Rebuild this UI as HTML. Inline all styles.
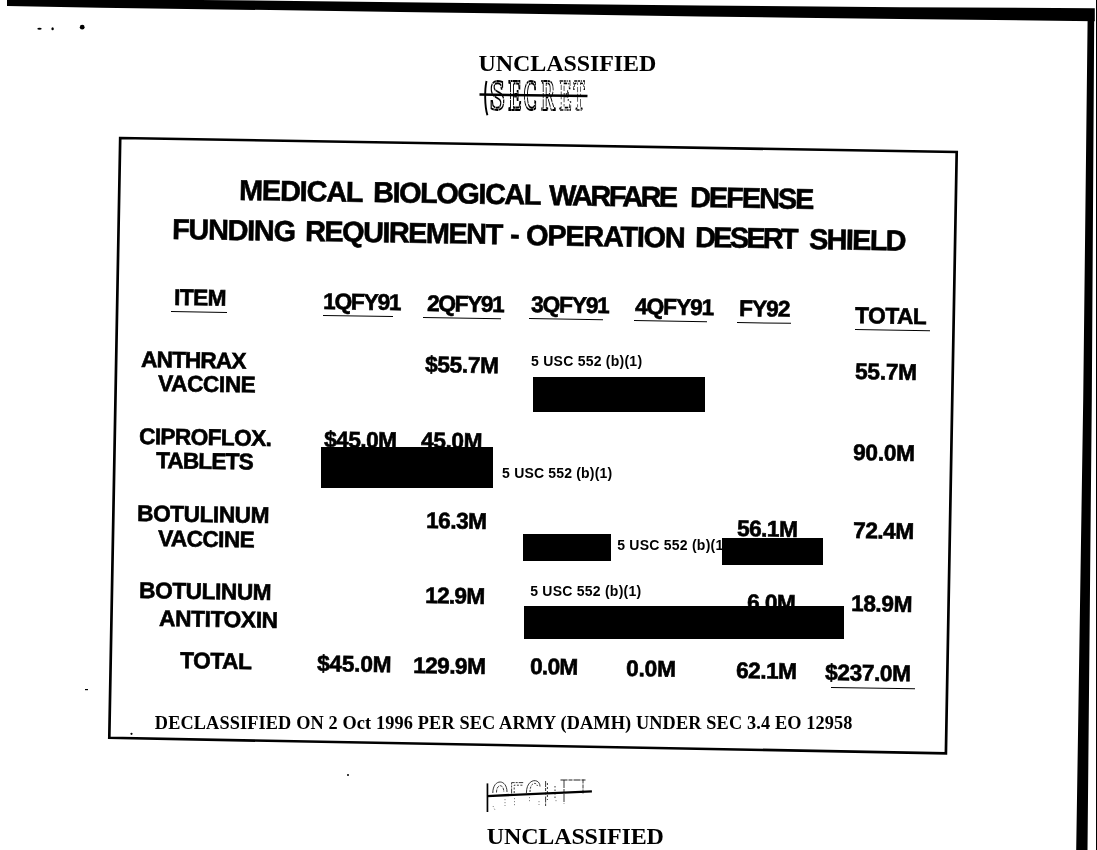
<!DOCTYPE html>
<html><head><meta charset="utf-8"><title>Medical Biological Warfare Defense Funding Requirement</title>
<style>
html,body{margin:0;padding:0;background:#fff;}
body{width:1097px;height:850px;position:relative;overflow:hidden;font-family:"Liberation Sans",sans-serif;color:#000;}
#pg{position:absolute;left:0;top:0;width:1097px;height:850px;will-change:transform;}
.t{position:absolute;white-space:nowrap;line-height:1;margin:0;padding:0;}
.sb{font-family:"Liberation Sans",sans-serif;font-weight:bold;-webkit-text-stroke:0.6px #000;}
.rb{font-family:"Liberation Serif",serif;font-weight:bold;}
.lab{font-family:"Liberation Sans",sans-serif;font-weight:bold;}
.bx{position:absolute;background:#000;}
.ul{position:absolute;height:1.4px;background:#000;transform-origin:0 50%;}
svg{position:absolute;left:0;top:0;}
</style></head><body><div id="pg">
<svg width="1097" height="850" viewBox="0 0 1097 850">
<polygon points="7,0 200,0 400,2.2 700,5.5 900,7.2 1094.8,8.3 1094.8,21.2 900,19 797,17.8 700,16.4 400,11.9 100,7.7 7,6" fill="#000"/>
<polygon points="1087.6,20 1094.2,20 1091.8,400 1087.5,850 1076.2,850 1083.2,400" fill="#000"/>
<rect x="1096" y="0" width="1" height="850" fill="#000"/>
<polygon points="120.2,138 956.7,152 945.9,753.4 109.3,737.8" fill="none" stroke="#000" stroke-width="2.7"/>
<g fill="#000">
<ellipse cx="39.5" cy="28.8" rx="2.2" ry="1"/>
<ellipse cx="52.6" cy="28.8" rx="1.2" ry="1.5"/>
<ellipse cx="82.2" cy="27.2" rx="2.4" ry="2.4"/>
<ellipse cx="348" cy="775" rx="1" ry="1"/>
<ellipse cx="131.5" cy="733.8" rx="1.1" ry="1.1"/>
<rect x="85" y="689" width="3" height="1.2"/>
</g>
</svg>
<div class="t sb" style="left:174.0px;top:285.88px;font-size:22.7px;letter-spacing:-0.598px;transform-origin:0 19.22px;transform:rotate(0.92deg);">ITEM</div>
<div class="ul" style="left:170.9px;top:310.70px;width:56.1px;transform:rotate(0.92deg);"></div>
<div class="t sb" style="left:322.8px;top:290.38px;font-size:22.7px;letter-spacing:-1.215px;transform-origin:0 19.22px;transform:rotate(0.92deg);">1QFY91</div>
<div class="ul" style="left:323.0px;top:315.30px;width:70.3px;transform:rotate(0.92deg);"></div>
<div class="t sb" style="left:427.2px;top:291.78px;font-size:22.7px;letter-spacing:-1.355px;transform-origin:0 19.22px;transform:rotate(0.92deg);">2QFY91</div>
<div class="ul" style="left:422.9px;top:316.80px;width:77.6px;transform:rotate(0.92deg);"></div>
<div class="t sb" style="left:530.5px;top:293.48px;font-size:22.7px;letter-spacing:-1.155px;transform-origin:0 19.22px;transform:rotate(0.92deg);">3QFY91</div>
<div class="ul" style="left:528.6px;top:318.00px;width:74.1px;transform:rotate(0.92deg);"></div>
<div class="t sb" style="left:634.5px;top:295.38px;font-size:22.7px;letter-spacing:-1.075px;transform-origin:0 19.22px;transform:rotate(0.92deg);">4QFY91</div>
<div class="ul" style="left:633.9px;top:319.90px;width:73.1px;transform:rotate(0.92deg);"></div>
<div class="t sb" style="left:738.6px;top:297.08px;font-size:22.7px;letter-spacing:-0.970px;transform-origin:0 19.22px;transform:rotate(0.92deg);">FY92</div>
<div class="ul" style="left:737.3px;top:322.20px;width:54.3px;transform:rotate(0.92deg);"></div>
<div class="t sb" style="left:855.4px;top:304.18px;font-size:22.7px;letter-spacing:-0.463px;transform-origin:0 19.22px;transform:rotate(0.92deg);">TOTAL</div>
<div class="ul" style="left:855.4px;top:329.10px;width:75.0px;transform:rotate(0.92deg);"></div>
<div class="t sb" style="left:141.2px;top:347.58px;font-size:22.7px;letter-spacing:-0.930px;transform-origin:0 19.22px;transform:rotate(0.92deg);">ANTHRAX</div>
<div class="t sb" style="left:157.8px;top:372.48px;font-size:22.7px;letter-spacing:-0.448px;transform-origin:0 19.22px;transform:rotate(0.92deg);">VACCINE</div>
<div class="t sb" style="left:425.0px;top:352.78px;font-size:22.7px;letter-spacing:-0.335px;transform-origin:0 19.22px;transform:rotate(0.92deg);">$55.7M</div>
<div class="t sb" style="left:855.0px;top:360.48px;font-size:22.7px;letter-spacing:-0.289px;transform-origin:0 19.22px;transform:rotate(0.92deg);">55.7M</div>
<div class="t sb" style="left:139.1px;top:424.68px;font-size:22.7px;letter-spacing:-0.661px;transform-origin:0 19.22px;transform:rotate(0.92deg);">CIPROFLOX.</div>
<div class="t sb" style="left:155.6px;top:448.78px;font-size:22.7px;letter-spacing:-0.865px;transform-origin:0 19.22px;transform:rotate(0.92deg);">TABLETS</div>
<div class="t sb" style="left:324.2px;top:427.78px;font-size:22.7px;letter-spacing:-0.555px;transform-origin:0 19.22px;transform:rotate(0.92deg);">$45.0M</div>
<div class="t sb" style="left:421.0px;top:429.38px;font-size:22.7px;letter-spacing:-0.414px;transform-origin:0 19.22px;transform:rotate(0.92deg);">45.0M</div>
<div class="t sb" style="left:853.0px;top:440.88px;font-size:22.7px;letter-spacing:-0.289px;transform-origin:0 19.22px;transform:rotate(0.92deg);">90.0M</div>
<div class="t sb" style="left:137.0px;top:501.98px;font-size:22.7px;letter-spacing:-0.463px;transform-origin:0 19.22px;transform:rotate(0.92deg);">BOTULINUM</div>
<div class="t sb" style="left:158.3px;top:526.88px;font-size:22.7px;letter-spacing:-0.631px;transform-origin:0 19.22px;transform:rotate(0.92deg);">VACCINE</div>
<div class="t sb" style="left:426.4px;top:508.78px;font-size:22.7px;letter-spacing:-0.539px;transform-origin:0 19.22px;transform:rotate(0.92deg);">16.3M</div>
<div class="t sb" style="left:737.4px;top:516.78px;font-size:22.7px;letter-spacing:-0.564px;transform-origin:0 19.22px;transform:rotate(0.92deg);">56.1M</div>
<div class="t sb" style="left:853.0px;top:519.08px;font-size:22.7px;letter-spacing:-0.489px;transform-origin:0 19.22px;transform:rotate(0.92deg);">72.4M</div>
<div class="t sb" style="left:138.9px;top:579.18px;font-size:22.7px;letter-spacing:-0.450px;transform-origin:0 19.22px;transform:rotate(0.92deg);">BOTULINUM</div>
<div class="t sb" style="left:159.4px;top:607.18px;font-size:22.7px;letter-spacing:-0.358px;transform-origin:0 19.22px;transform:rotate(0.92deg);">ANTITOXIN</div>
<div class="t sb" style="left:425.3px;top:584.38px;font-size:22.7px;letter-spacing:-0.739px;transform-origin:0 19.22px;transform:rotate(0.92deg);">12.9M</div>
<div class="t sb" style="left:746.8px;top:590.58px;font-size:22.7px;letter-spacing:-0.580px;transform-origin:0 19.22px;transform:rotate(0.92deg);">6.0M</div>
<div class="t sb" style="left:850.8px;top:591.78px;font-size:22.7px;letter-spacing:-0.439px;transform-origin:0 19.22px;transform:rotate(0.92deg);">18.9M</div>
<div class="t sb" style="left:180.3px;top:649.48px;font-size:22.7px;letter-spacing:-0.438px;transform-origin:0 19.22px;transform:rotate(0.92deg);">TOTAL</div>
<div class="t sb" style="left:317.2px;top:652.38px;font-size:22.7px;letter-spacing:-0.255px;transform-origin:0 19.22px;transform:rotate(0.92deg);">$45.0M</div>
<div class="t sb" style="left:413.0px;top:653.88px;font-size:22.7px;letter-spacing:-0.575px;transform-origin:0 19.22px;transform:rotate(0.92deg);">129.9M</div>
<div class="t sb" style="left:530.1px;top:655.48px;font-size:22.7px;letter-spacing:-0.746px;transform-origin:0 19.22px;transform:rotate(0.92deg);">0.0M</div>
<div class="t sb" style="left:626.4px;top:657.48px;font-size:22.7px;letter-spacing:-0.213px;transform-origin:0 19.22px;transform:rotate(0.92deg);">0.0M</div>
<div class="t sb" style="left:735.5px;top:659.48px;font-size:22.7px;letter-spacing:-0.514px;transform-origin:0 19.22px;transform:rotate(0.92deg);">62.1M</div>
<div class="t sb" style="left:824.9px;top:661.48px;font-size:22.7px;letter-spacing:-0.382px;transform-origin:0 19.22px;transform:rotate(0.92deg);">$237.0M</div>
<div class="ul" style="left:830.9px;top:686.60px;width:84.3px;transform:rotate(0.92deg);"></div>
<div class="t sb" style="left:239.4px;top:175.82px;font-size:28.8px;letter-spacing:-1.131px;transform-origin:0 24.38px;transform:rotate(0.92deg);">MEDICAL</div>
<div class="t sb" style="left:372.7px;top:177.96px;font-size:28.8px;letter-spacing:-1.375px;transform-origin:0 24.38px;transform:rotate(0.92deg);">BIOLOGICAL</div>
<div class="t sb" style="left:548.8px;top:180.78px;font-size:28.8px;letter-spacing:-2.513px;transform-origin:0 24.38px;transform:rotate(0.92deg);">WARFARE</div>
<div class="t sb" style="left:690.2px;top:183.06px;font-size:28.8px;letter-spacing:-1.951px;transform-origin:0 24.38px;transform:rotate(0.92deg);">DEFENSE</div>
<div class="t sb" style="left:171.7px;top:214.91px;font-size:28.8px;letter-spacing:-1.229px;transform-origin:0 24.38px;transform:rotate(0.92deg);">FUNDING</div>
<div class="t sb" style="left:304.5px;top:217.05px;font-size:28.8px;letter-spacing:-1.479px;transform-origin:0 24.38px;transform:rotate(0.92deg);">REQUIREMENT</div>
<div class="t sb" style="left:509.6px;top:220.34px;font-size:28.8px;letter-spacing:0.000px;transform-origin:0 24.38px;transform:rotate(0.92deg);">-</div>
<div class="t sb" style="left:526.3px;top:220.61px;font-size:28.8px;letter-spacing:-1.182px;transform-origin:0 24.38px;transform:rotate(0.92deg);">OPERATION</div>
<div class="t sb" style="left:695.1px;top:223.32px;font-size:28.8px;letter-spacing:-2.683px;transform-origin:0 24.38px;transform:rotate(0.92deg);">DESERT</div>
<div class="t sb" style="left:809.2px;top:225.13px;font-size:28.8px;letter-spacing:-1.640px;transform-origin:0 24.38px;transform:rotate(0.92deg);">SHIELD</div>
<div class="t rb" style="left:478.6px;top:51.40px;font-size:24px;letter-spacing:-0.089px;">UNCLASSIFIED</div>
<div class="t rb" style="left:486.8px;top:824.10px;font-size:24px;letter-spacing:-0.144px;">UNCLASSIFIED</div>
<div class="t rb" style="left:154.8px;top:714.27px;font-size:18.3px;letter-spacing:0.128px;">DECLASSIFIED ON 2 Oct 1996 PER SEC ARMY (DAMH) UNDER SEC 3.4 EO 12958</div>
<div class="t lab" style="left:531.1px;top:353.85px;font-size:14px;letter-spacing:0.240px;">5 USC 552 (b)(1)</div>
<div class="t lab" style="left:502.1px;top:466.05px;font-size:14px;letter-spacing:0.180px;">5 USC 552 (b)(1)</div>
<div class="t lab" style="left:617.2px;top:538.05px;font-size:14px;letter-spacing:0.240px;">5 USC 552 (b)(1)</div>
<div class="t lab" style="left:530.2px;top:584.35px;font-size:14px;letter-spacing:0.240px;">5 USC 552 (b)(1)</div>
<div class="bx" style="left:533.0px;top:376.6px;width:172.2px;height:35.7px;"></div>
<div class="bx" style="left:320.8px;top:447.0px;width:171.9px;height:40.6px;"></div>
<div class="bx" style="left:522.5px;top:533.9px;width:88.1px;height:27.1px;"></div>
<div class="bx" style="left:722.1px;top:538.0px;width:100.9px;height:26.5px;"></div>
<div class="bx" style="left:524.0px;top:606.4px;width:320.0px;height:32.4px;"></div>
<svg width="1097" height="850" viewBox="0 0 1097 850">
<g font-family="Liberation Serif, serif" font-weight="bold" fill="#fff" stroke="#000">
<text transform="translate(489.8,109.8) scale(0.62,1)" font-size="43.8" stroke-width="1.6" style="vector-effect:non-scaling-stroke" stroke-dasharray="9 0.6 5 0.5 13 0.9 3 0.6">S</text>
<text transform="translate(508.6,109.8) scale(0.45,1)" font-size="43.8" stroke-width="1.6" style="vector-effect:non-scaling-stroke" stroke-dasharray="9 0.6 5 0.5 13 0.9 3 0.6">E</text>
<text transform="translate(523.6,109.8) scale(0.43,1)" font-size="43.8" stroke-width="1.6" style="vector-effect:non-scaling-stroke" stroke-dasharray="9 0.6 5 0.5 13 0.9 3 0.6">C</text>
<text transform="translate(541.2,109.8) scale(0.44,1)" font-size="43.8" stroke-width="1.4" style="vector-effect:non-scaling-stroke" stroke-dasharray="7 0.8 4 0.8 9 1 3 0.8">R</text>
<text transform="translate(559.2,109.8) scale(0.43,1)" font-size="43.8" stroke-width="1.2" style="vector-effect:non-scaling-stroke" stroke-dasharray="4 1.4 2 2 6 1.2">E</text>
<text transform="translate(573.2,109.8) scale(0.4,1)" font-size="43.8" stroke-width="1.2" style="vector-effect:non-scaling-stroke" stroke-dasharray="4 1.4 2 2 6 1.2">T</text>
<path d="M486.5,81 C484.6,90 484.6,106 487.4,115.3" fill="none" stroke-width="1.9"/>
<rect x="479.5" y="93.3" width="108" height="2.5" fill="#000" stroke="none" transform="rotate(0.8 479.5 94)"/>
</g>
<g fill="none" stroke="#222" stroke-width="0.9">
<path d="M492.8,793 C492.8,778.5 507,778.5 507,792"/>
<path d="M496.5,792.5 C496.5,783.5 503.8,783.5 503.8,792" stroke-dasharray="3 1"/>
<path d="M511.6,793.5 V782.6 H523.2" stroke-dasharray="5 1 2 1"/>
<path d="M514.2,793 V785.2 H522.5" stroke-dasharray="2 1.5"/>
<path d="M526.4,793 C526.4,777.8 540,777.8 540,786.5"/>
<path d="M530,792 C530,781.8 536.8,781.8 537.4,786" stroke-dasharray="2 1.4"/>
<path d="M545.6,781 V806" stroke-dasharray="6 1 3 1.5 2 2"/>
<path d="M547.4,783 V800" stroke-dasharray="2 2"/>
<path d="M555,786 V799" stroke-dasharray="1.5 2"/>
<path d="M560.5,780 H586.5" stroke-width="1.1" stroke-dasharray="7 1 4 1"/>
<path d="M564,780 V803.5" stroke-dasharray="8 1 4 1"/>
<path d="M583,779.5 V794" stroke-dasharray="4 1"/>
<path d="M514.5,798 V806 M529.5,797 V802 M539,801 V805 M493,806 L495,810 M505,799 V806 M556,800 V803" stroke="#777" stroke-dasharray="1.2 1.8"/>
</g>
<rect x="486.6" y="783.4" width="1.7" height="28.6" fill="#000"/>
<rect x="487" y="794.9" width="105" height="2.4" fill="#000" transform="rotate(-2.6 487 796.1)"/>
</svg>
</div></body></html>
